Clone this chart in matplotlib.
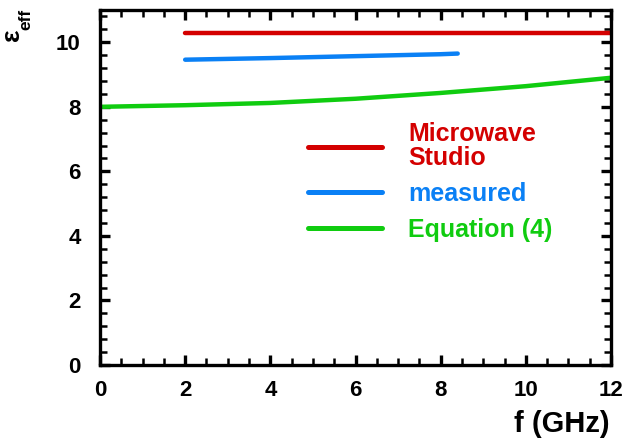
import matplotlib
matplotlib.use("Agg")
import matplotlib.pyplot as plt
from matplotlib.ticker import MultipleLocator

plt.rcParams['font.family'] = ['Liberation Sans', 'DejaVu Sans']
plt.rcParams['font.weight'] = 'bold'

# data
mws_f = [2, 12]
mws_eps = [10.3, 10.3]
meas_f = [2, 4, 6, 8, 8.4]
meas_eps = [9.46, 9.51, 9.57, 9.63, 9.65]
eq_f = [0, 2, 4, 6, 8, 10, 12]
eq_eps = [8.0, 8.05, 8.12, 8.25, 8.43, 8.64, 8.9]
labels = ['Microwave\nStudio', 'measured', 'Equation (4)']
colors = ['#D40000', '#0A80F5', '#10CC10']

fig = plt.figure(figsize=(6.25, 4.41), dpi=100)
ax = fig.add_axes([100/625, 1-365/441, 511/625, 355/441])

ax.plot(mws_f, mws_eps, color=colors[0], lw=3.2, label=labels[0], solid_capstyle='round')
ax.plot(meas_f, meas_eps, color=colors[1], lw=3.2, label=labels[1], solid_capstyle='round')
ax.plot(eq_f, eq_eps, color=colors[2], lw=3.2, label=labels[2], solid_capstyle='round')

ax.set_xlim(0, 12)
ax.set_ylim(0, 11)
ax.xaxis.set_major_locator(MultipleLocator(2))
ax.xaxis.set_minor_locator(MultipleLocator(0.5))
ax.yaxis.set_major_locator(MultipleLocator(2))
ax.yaxis.set_minor_locator(MultipleLocator(0.4))
ax.tick_params(which='both', direction='in', top=True, right=True, width=1.8)
ax.tick_params(which='major', length=7.5, width=2.4, labelsize=16)
ax.tick_params(which='minor', length=5)
ax.tick_params(axis='x', which='major', pad=11)
ax.tick_params(axis='y', which='major', pad=14)
for s in ax.spines.values():
    s.set_linewidth(2.4)
for t in ax.get_xticklabels() + ax.get_yticklabels():
    t.set_fontweight('bold')

fig.text(610/625, 1-424/441, 'f (GHz)', ha='right', va='center', fontsize=21, fontweight='bold')
fig.text(12.5/625, 1-35/441, 'ε', rotation=90, ha='center', va='center', fontsize=19)
fig.text(26/625, 1-19/441, 'eff', rotation=90, ha='center', va='center', fontsize=12.5, fontweight='bold')

leg = ax.legend(loc='upper left', bbox_to_anchor=((308-100)/511, (365-122)/355), frameon=False,
                borderpad=0, borderaxespad=0,
                handlelength=2.96, handletextpad=1.04, labelspacing=0.48,
                prop={'size': 18, 'weight': 'bold'}, labelcolor='linecolor')
for t in leg.get_texts():
    t.set_linespacing(1.0)
for h in leg.get_lines():
    h.set_linewidth(3.6)

fig.savefig('out.png', dpi=100)
